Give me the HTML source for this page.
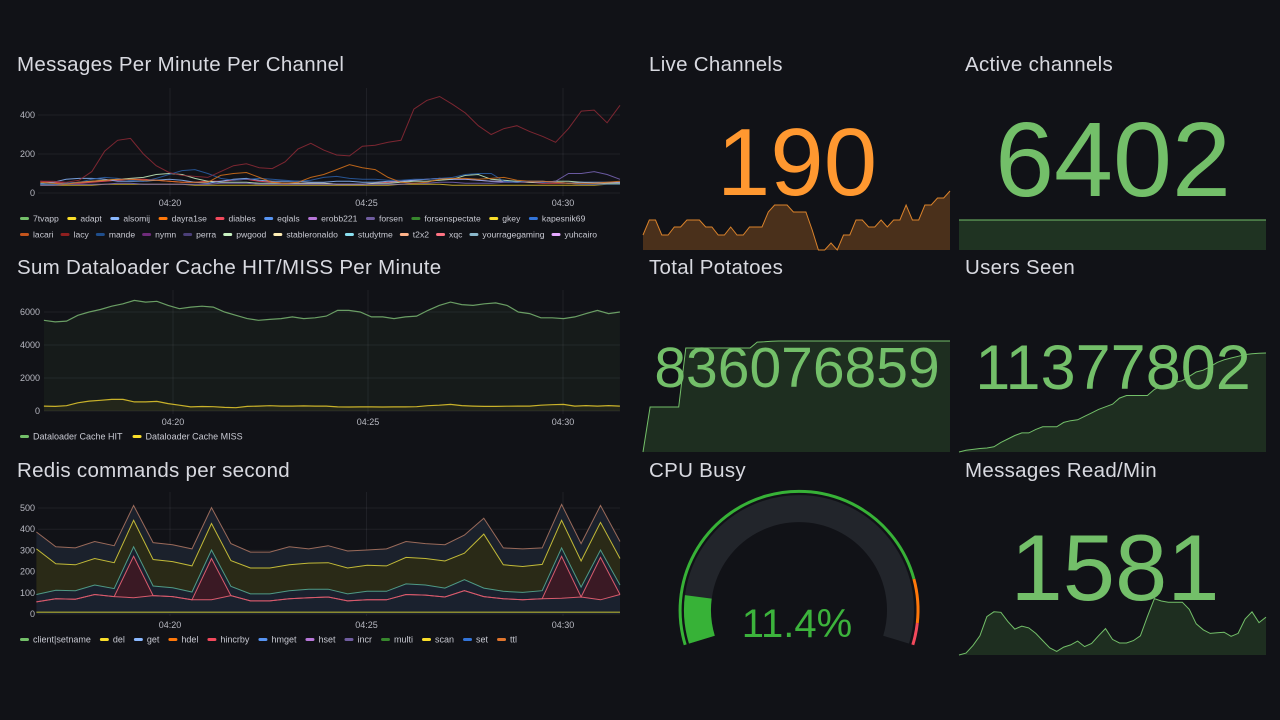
<!DOCTYPE html>
<html><head><meta charset="utf-8"><style>
html,body{margin:0;padding:0;background:#111217;width:1280px;height:720px;overflow:hidden}
svg{display:block;font-family:"Liberation Sans",sans-serif}
</style></head><body>
<svg id="dash" width="1280" height="720" viewBox="0 0 1280 720">
<rect x="0" y="0" width="1280" height="720" fill="#111217"/>
<g fill="#d8d9e0" font-size="20.5" letter-spacing="0.3">
<text x="17" y="71">Messages Per Minute Per Channel</text>
<text x="17" y="274">Sum Dataloader Cache HIT/MISS Per Minute</text>
<text x="17" y="477">Redis commands per second</text>
<text x="649" y="71">Live Channels</text>
<text x="965" y="71">Active channels</text>
<text x="649" y="274">Total Potatoes</text>
<text x="965" y="274">Users Seen</text>
<text x="649" y="477">CPU Busy</text>
<text x="965" y="477">Messages Read/Min</text>
</g>
</svg>
<script>
// ---------- DATA ----------
const timeTicks=[20,25,30];
const timeTickLabels=['04:20','04:25','04:30'];
// Panel 1
const p1Ticks=[0,200,400];
const p1Names=['lacy','dayra1se','mande','forsen','alsomij','pwgood','gkey','diables'];
const p1Colors=['#8f2a36','#d9731a','#2a5fa8','#7a66b8','#8ab8ff','#c8f2c2','#e0c030','#f2495c'];
const lacy=[60,60,55,65,110,215,270,280,200,140,105,90,85,80,110,140,150,130,125,160,225,255,220,195,190,240,245,260,270,430,475,495,455,410,345,300,330,345,315,290,260,330,420,425,360,450];
const dayra1se=[55,50,45,55,60,65,70,70,65,65,60,55,55,55,90,100,105,80,55,50,55,80,95,120,145,130,120,80,55,50,55,70,75,75,70,75,80,65,60,60,55,50,50,50,55,60];
const mande=[45,45,50,55,70,80,75,65,60,75,95,115,120,100,75,65,70,75,70,65,60,65,80,85,75,70,70,65,65,70,70,75,80,95,100,100,60,55,60,55,55,50,45,45,45,45];
const forsen=[40,40,45,45,45,45,50,50,45,45,45,45,45,45,50,50,50,45,45,45,45,45,45,45,45,45,45,45,45,50,50,55,55,50,50,50,55,55,60,55,60,100,100,110,95,70];
const alsomij=[50,55,70,75,75,70,60,60,60,65,70,65,55,50,60,70,75,65,60,60,60,55,55,60,60,55,55,60,60,65,70,75,70,70,65,60,60,55,60,60,55,50,55,55,55,55];
const pwgood=[45,45,50,55,60,65,70,75,80,95,100,95,75,60,55,55,55,50,50,50,50,50,50,45,45,45,50,50,55,60,60,65,70,90,95,70,65,60,55,55,60,60,55,50,50,50];
const gkey=[40,40,40,40,40,45,45,45,45,45,45,45,40,40,40,40,40,40,40,40,40,40,40,40,40,40,40,40,45,45,45,45,40,40,40,40,40,40,40,40,40,40,40,40,45,45];
const diables=[60,55,50,50,55,60,65,70,70,65,60,55,55,60,60,65,70,60,55,50,50,50,50,45,45,45,50,55,60,65,70,75,70,70,65,60,60,55,55,50,50,50,45,45,50,55];
const p1Legend1=['7tvapp','adapt','alsomij','dayra1se','diables','eqlals','erobb221','forsen','forsenspectate','gkey','kapesnik69'];
const p1Legend1Colors=['#73bf69','#fade2a','#8ab8ff','#ff780a','#f2495c','#5794f2','#b877d9','#705da0','#37872d','#fade2a','#3274d9'];
const p1Legend2=['lacari','lacy','mande','nymn','perra','pwgood','stableronaldo','studytme','t2x2','xqc','yourragegaming','yuhcairo'];
const p1Legend2Colors=['#c4541c','#8f1f1f','#1f4e8c','#6e2b7a','#4b3f78','#c8f2c2','#ffeeb5','#8ae0f0','#ffb38a','#ff7383','#8ab8cc','#e5a8ff'];
// Panel 2
const p2Ticks=[0,2000,4000,6000];
const cacheHit=[5500,5400,5450,5800,6000,6150,6350,6500,6700,6600,6650,6400,6200,6300,6350,6300,6000,5800,5600,5500,5550,5600,5700,5600,5650,5750,6100,6100,6000,5700,5700,5600,5700,5750,6100,6400,6600,6450,6400,6500,6550,6400,6000,5900,5650,5650,5600,5700,5900,6100,5900,6000];
const cacheMiss=[300,280,320,500,600,650,700,700,550,550,580,450,350,250,270,260,220,200,280,300,320,300,300,310,300,300,250,240,250,250,240,250,250,260,320,350,400,330,300,280,280,290,300,300,350,380,400,300,330,300,330,300];
// Panel 3 (stacked)
const p3Ticks=[0,100,200,300,400,500];
const p3Names=['client|setname','del','get','hdel','hincrby','hmget','hset','incr','multi','scan','set','ttl'];
const p3LegendColors=['#73bf69','#fade2a','#8ab8ff','#ff780a','#f2495c','#5794f2','#b877d9','#705da0','#37872d','#fade2a','#3274d9','#e0752d'];
const clientSetname=[8,8,8,8,8,8,8,8,8,8,8,8,8,8,8,8,8,8,8,8,8,8,8,8,8,8,8,8,8,8,8];
const setCmd=[57,72,70,92,82,77,87,82,67,67,87,62,62,72,77,80,62,67,67,92,89,80,110,82,72,67,72,74,80,67,92];
const hincrby=[0,0,0,0,0,195,0,0,0,195,0,0,0,0,0,0,0,0,0,0,0,0,0,0,0,0,0,198,0,200,0];
const getCmd=[35,40,40,45,38,45,45,42,37,40,43,33,33,38,40,37,33,40,40,50,48,42,52,40,35,35,38,40,47,35,45];
const delCmd=[215,125,122,125,122,125,125,123,123,125,122,122,122,122,123,125,122,123,120,125,125,128,125,255,125,122,124,130,123,130,125];
const ttlCmd=[80,80,80,80,80,70,80,80,80,75,80,75,75,85,67,80,80,72,80,75,70,77,85,75,80,83,78,75,82,80,80];
// Stats
const liveChannels=[165,180,180,165,165,173,173,180,180,180,173,173,165,165,173,165,165,173,173,173,188,195,195,195,188,188,188,170,150,150,157,150,165,165,180,180,173,173,180,173,180,180,195,180,180,195,195,202,202,209];
const activeChannels=[6402,6402,6402,6402,6402,6402,6402,6402,6402,6402];
const totalPotatoes=[0,339,339,339,339,339,783,783,783,783,783,783,783,783,783,783,828,830,834,836,836,836,836,836,836,836,836,836,836,836,836,836,836,836,836,836,836,836,836,836,836,836,836,836];
const usersSeen=[0,0.2,0.3,0.4,0.46,0.6,1.1,1.5,1.9,2.2,2.2,2.6,2.9,2.9,2.9,3.4,3.6,3.7,4.1,4.5,4.9,5.2,5.5,6.2,6.5,6.5,6.5,6.5,7.2,7.6,7.8,8.0,8.2,8.7,9.2,9.4,9.8,10.3,10.6,10.8,11.0,11.2,11.3,11.35,11.38];
const messagesRead=[0,80,400,800,1600,1800,1780,1400,1080,1200,1130,900,600,300,150,330,420,580,350,480,800,1100,650,500,500,600,800,1600,2350,2250,2200,2200,2200,1900,1300,1050,900,930,950,780,900,1500,1800,1350,1581];
const cpuBusy=11.4;

// ---------- HELPERS ----------
const NS='http://www.w3.org/2000/svg';
const svg=document.getElementById('dash');
function el(tag,attrs,parent){const e=document.createElementNS(NS,tag);for(const k in attrs)e.setAttribute(k,attrs[k]);(parent||svg).appendChild(e);return e;}
function pts(arr,xf,yf){return arr.map((v,i)=>xf(i).toFixed(1)+','+yf(v).toFixed(1));}

function timeAxis(g,xT,top,bottom,labelY){
  timeTicks.forEach((t,i)=>{
    const ln=el('line',{x1:xT(t),x2:xT(t),y1:top,y2:bottom,stroke:'rgba(204,204,220,0.08)','stroke-width':1},g);
    
    
    const tx=el('text',{x:xT(t),y:labelY,'text-anchor':'middle','font-size':9,fill:'#b8b9c2'},g);
    tx.textContent=timeTickLabels[i];
    
    
  });
}
function valueAxis(g,ticks,yS,x0,x1,labelX){
  ticks.forEach(v=>{
    const ln=el('line',{x1:x0,x2:x1,y1:yS(v),y2:yS(v),stroke:'rgba(204,204,220,0.08)','stroke-width':1},g);
    
    
    const tx=el('text',{x:labelX,y:yS(v)+3,'text-anchor':'end','font-size':9,fill:'#b8b9c2'},g);
    tx.textContent=String(v);
    
    
  });
}
function legendRow(g,names,colors,y,startX,gap,fs){
  let x=startX;
  names.forEach((n,i)=>{
    const item=el('g',{},g);
    
    
    el('rect',{x:x,y:y-3,width:9,height:3,rx:1.5,fill:colors[i]},item);
    const tx=el('text',{x:x+13,y:y+1.5,'font-size':fs,fill:'#c8c9d2'},item);
    tx.textContent=n;
    const w=tx.getComputedTextLength?tx.getComputedTextLength():n.length*5;
    x+=13+w+gap;
  });
}

// ---------- PANEL 1 ----------
(function(){
  const g=el('g',{});
  
  
  const xT=t=>170+(t-20)*39.3;
  const yS=v=>193-v*0.195;
  valueAxis(g,p1Ticks,yS,38,620,35);
  timeAxis(g,xT,88,196,206);
  const t0=16.7,t1=31.45;
  const series=[lacy,dayra1se,mande,forsen,alsomij,pwgood,gkey,diables];
  for(let s=series.length-1;s>=0;s--){
    const arr=series[s];
    const xf=i=>xT(t0+(t1-t0)*i/(arr.length-1));
    const p=el('polyline',{points:pts(arr,xf,yS).join(' '),fill:'none',stroke:p1Colors[s],'stroke-width':1,'stroke-opacity':0.85},g);
    
    
  }
  const l=el('g',{},g);
  
  
  legendRow(l,p1Legend1,p1Legend1Colors,220,20,8.5,8.6);
  legendRow(l,p1Legend2,p1Legend2Colors,236,20,7,8.6);
})();

// ---------- PANEL 2 ----------
(function(){
  const g=el('g',{});
  
  
  const xT=t=>173+(t-20)*39;
  const yS=v=>411-v*0.0165;
  valueAxis(g,p2Ticks,yS,44,620,40);
  timeAxis(g,xT,290,414,425);
  const t0=16.69,t1=31.46;
  [[cacheHit,'#6a9e64','rgba(115,191,105,0.05)','series-cache-hit'],[cacheMiss,'#c9b22a','rgba(250,222,42,0.06)','series-cache-miss']].forEach(([arr,c,f,name])=>{
    const xf=i=>xT(t0+(t1-t0)*i/(arr.length-1));
    const p=pts(arr,xf,yS);
    const a=el('polygon',{points:xf(0)+','+yS(0)+' '+p.join(' ')+' '+xf(arr.length-1)+','+yS(0),fill:f},g);
    
    
    const ln=el('polyline',{points:p.join(' '),fill:'none',stroke:c,'stroke-width':1.2},g);
    
    
  });
  const l=el('g',{},g);
  
  
  legendRow(l,['Dataloader Cache HIT','Dataloader Cache MISS'],['#73bf69','#fade2a'],438,20,10,9);
})();

// ---------- PANEL 3 ----------
(function(){
  const g=el('g',{});
  
  
  const xT=t=>170+(t-20)*39.3;
  const yS=v=>614-v*0.212;
  valueAxis(g,p3Ticks,yS,38,620,35);
  timeAxis(g,xT,492,616,628);
  const t0=16.6,t1=31.45;
  const layers=[
    [setCmd,'#d85a6c','#1a212e','series-set'],
    [hincrby,'#d85a6c','#3a1924','series-hincrby'],
    [getCmd,'#4f9a86','#1a212e','series-get'],
    [delCmd,'#c2ba38','#2a2a17','series-del'],
    [ttlCmd,'#9a6a5a','#1b212c','series-ttl']];
  const n=setCmd.length;
  const xf=i=>xT(t0+(t1-t0)*i/(n-1));
  let base=new Array(n).fill(0);
  const lines=[];
  layers.forEach(([arr,c,f,name])=>{
    const top=base.map((b,i)=>b+arr[i]);
    const upper=top.map((v,i)=>xf(i).toFixed(1)+','+yS(v).toFixed(1));
    const lower=base.map((v,i)=>xf(i).toFixed(1)+','+yS(v).toFixed(1)).reverse();
    const a=el('polygon',{points:upper.concat(lower).join(' '),fill:f},g);
    
    
    lines.push([upper,c,name]);
    base=top;
  });
  lines.forEach(([upper,c,name])=>{
    const ln=el('polyline',{points:upper.join(' '),fill:'none',stroke:c,'stroke-width':1},g);
    
    
  });
  const cs=el('polyline',{points:pts(clientSetname,xf,yS).join(' '),fill:'none',stroke:'#8a8a30','stroke-width':1.5},g);
  
  
  const l=el('g',{},g);
  
  
  legendRow(l,p3Names,p3LegendColors,641,20,9,9);
})();

// ---------- STATS ----------
function sparkline(name,arr,x0,x1,yBottom,yTop,vMin,vMax,line,fill){
  const xf=i=>x0+(x1-x0)*i/(arr.length-1);
  const yf=v=>yBottom-(v-vMin)/(vMax-vMin)*(yBottom-yTop);
  const p=pts(arr,xf,yf);
  const a=el('polygon',{points:x0+','+yBottom+' '+p.join(' ')+' '+x1+','+yBottom,fill:fill});
  
  
  const ln=el('polyline',{points:p.join(' '),fill:'none',stroke:line,'stroke-width':1});
  
  
}
function bigText(name,txt,x,y,size,color){
  const t=el('text',{x:x,y:y,'text-anchor':'middle','font-size':size,fill:color});
  t.textContent=txt;
  
  
}
sparkline('live-channels-sparkline',liveChannels,643,950,250,190,150,210,'#d9822b','#4a301b');
bigText('live-channels-value','190',797,195,96,'#ff9830');
sparkline('active-channels-sparkline',activeChannels,959,1266,250,220,0,6402,'#73bf69','#1f3322');
bigText('active-channels-value','6402',1113,196,106,'#73bf69');
sparkline('total-potatoes-sparkline',totalPotatoes,643,950,452,341,0,836,'#73bf69','#1e2e20');
bigText('total-potatoes-value','836076859',797,387,57,'#73bf69');
sparkline('users-seen-sparkline',usersSeen,959,1266,452,353,0,11.38,'#73bf69','#1e2e20');
bigText('users-seen-value','11377802',1113,389,63,'#73bf69');
sparkline('messages-read-sparkline',messagesRead,959,1266,655,595,0,2500,'#73bf69','#1e2e20');
bigText('messages-read-value','1581',1115,600,94,'#73bf69');

// ---------- GAUGE ----------
(function(){
  const g=el('g',{});
  
  
  const cx=799,cy=610,a0=197,a1=-17;
  const ang=f=>(a0+(a1-a0)*f)*Math.PI/180;
  function arc(r,f0,f1){
    const p0=[cx+r*Math.cos(ang(f0)),cy-r*Math.sin(ang(f0))];
    const p1=[cx+r*Math.cos(ang(f1)),cy-r*Math.sin(ang(f1))];
    const large=Math.abs((a1-a0)*(f1-f0))>180?1:0;
    return 'M'+p0[0].toFixed(1)+','+p0[1].toFixed(1)+' A'+r+','+r+' 0 '+large+' 1 '+p1[0].toFixed(1)+','+p1[1].toFixed(1);
  }
  const bg=el('path',{d:arc(101.5,0,1),fill:'none',stroke:'#22252b','stroke-width':27},g);
  
  
  const val=el('path',{d:arc(101.5,0,cpuBusy/100),fill:'none',stroke:'#37b237','stroke-width':27},g);
  
  
  const th=[[0,0.85,'#37b237'],[0.85,0.95,'#ff780a'],[0.95,1,'#f2495c']];
  th.forEach(([f0,f1,c])=>{
    const p=el('path',{d:arc(119,f0,f1),fill:'none',stroke:c,'stroke-width':3},g);
    
    
  });
  const t=el('text',{x:797,y:637,'text-anchor':'middle','font-size':40,fill:'#3cb33c'},g);
  t.textContent=cpuBusy.toFixed(1)+'%';
  
  
})();
</script>
</body></html>
